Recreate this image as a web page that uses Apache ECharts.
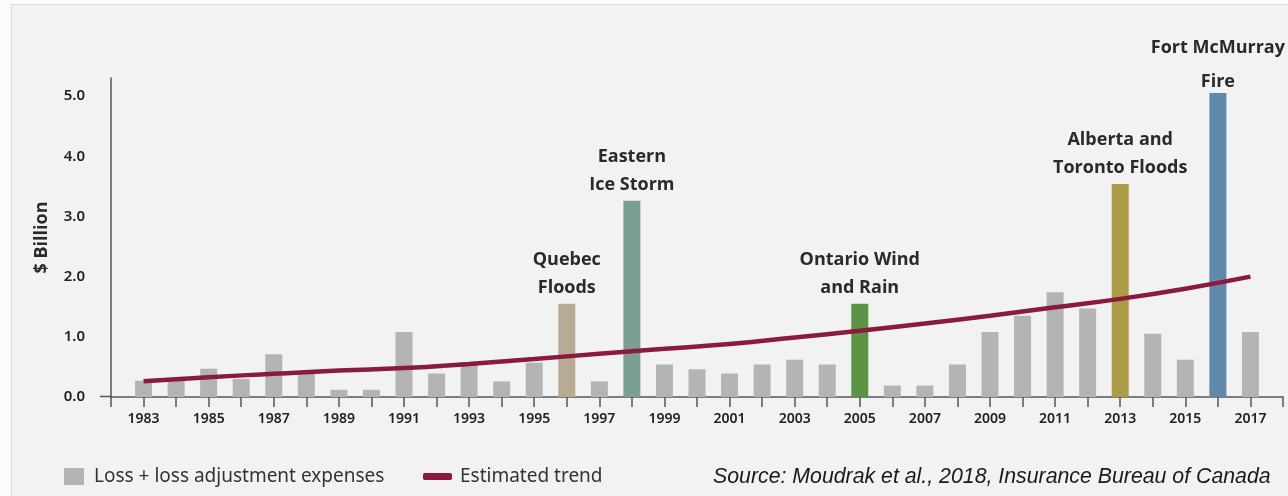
<!DOCTYPE html>
<html><head><meta charset="utf-8">
<script src="https://cdn.jsdelivr.net/npm/echarts@6/dist/echarts.min.js"></script>
<style>html,body{margin:0;padding:0;background:#fbfbfb;}#c{width:1288px;height:496px;}</style>
</head><body><div id="c"></div>
<script>
const years = [1983,1984,1985,1986,1987,1988,1989,1990,1991,1992,1993,1994,1995,1996,1997,1998,1999,2000,2001,2002,2003,2004,2005,2006,2007,2008,2009,2010,2011,2012,2013,2014,2015,2016,2017];
const losses = [0.27,0.28,0.47,0.30,0.71,0.43,0.12,0.12,1.08,0.39,0.58,0.26,0.57,1.55,0.26,3.26,0.54,0.46,0.39,0.54,0.62,0.54,1.55,0.19,0.19,0.54,1.08,1.35,1.74,1.47,3.54,1.05,0.62,5.05,1.08];
const trendYears = [1983,1985,1987,1989,1991,1993,1995,1997,1999,2001,2003,2005,2007,2009,2011,2013,2015,2017];
const trendValues = [0.26,0.33,0.385,0.44,0.48,0.55,0.63,0.72,0.80,0.88,0.99,1.10,1.22,1.35,1.49,1.63,1.80,2.00];
const events = {1996:'Quebec\nFloods',1998:'Eastern\nIce Storm',2005:'Ontario Wind\nand Rain',2013:'Alberta and\nToronto Floods',2016:'Fort McMurray\nFire'};
const eventColors = {1996:'#b8ab94',1998:'#7b9e92',2005:'#5b9444',2013:'#ab9d47',2016:'#6189a9'};
const yTicks = ['0.0','1.0','2.0','3.0','4.0','5.0'];
const barName = 'Loss + loss adjustment expenses';
const trendName = 'Estimated trend';

const sansFont = '"Noto Sans","Open Sans",sans-serif';
const boldFont = '"Open Sans","Noto Sans",sans-serif';
const barData = years.map((y,i)=>{
  const d = {value:[y, losses[i]]};
  if (eventColors[y]) {
    const tall = y === 2016;
    d.itemStyle = {color: eventColors[y]};
    d.label = {show:true, position:'top', distance: tall ? -6 : 2, formatter: events[y],
      fontFamily:boldFont, fontWeight:'bold', fontSize:18,
      lineHeight: tall ? 34 : 28, color:'#2a2a2a', align:'center', letterSpacing:-0.6};
  }
  return d;
});

const chart = echarts.init(document.getElementById('c'));
chart.setOption({
  animation:false,
  backgroundColor:'#fbfbfb',
  graphic:[
    {type:'rect', z:-10, shape:{x:11.5,y:4.5,width:1290,height:500}, style:{fill:'#f2f2f2', stroke:'#dcdcdc', lineWidth:1}},
    {type:'line', z:5, shape:{x1:100,y1:396.5,x2:112,y2:396.5}, style:{stroke:'#555', lineWidth:1.5}}
  ],
  title:{text:'Source: Moudrak et al., 2018, Insurance Bureau of Canada', left:708, top:462,
    textStyle:{fontFamily:'"Liberation Sans",Arial,sans-serif', fontStyle:'italic', fontWeight:'normal', fontSize:21.3, color:'#1a1a1a'}},
  legend:[
    {data:[barName], left:64, top:467, padding:0, itemWidth:20, itemHeight:17, icon:'rect', itemGap:0,
      textStyle:{fontFamily:sansFont, fontSize:19, color:'#333', padding:[0,0,0,5]}},
    {data:[trendName], left:423, top:467, padding:0, itemWidth:29, itemHeight:7, icon:'roundRect',
      textStyle:{fontFamily:sansFont, fontSize:19, color:'#333', padding:[0,0,0,3]}}
  ],
  grid:{left:111, right:5, top:78, bottom:99, containLabel:false},
  xAxis:{type:'value', min:1982, max:2018, interval:1,
    axisLine:{show:true, lineStyle:{color:'#555', width:1.5}},
    axisTick:{show:true, length:10, lineStyle:{color:'#555', width:1.5}},
    splitLine:{show:false},
    axisLabel:{margin:15, fontFamily:sansFont, fontWeight:600, fontSize:14, color:'#222', letterSpacing:-0.8,
      formatter:v=> (v>=1983 && v<=2017 && (v-1983)%2===0) ? String(v) : ''}
  },
  yAxis:{type:'value', min:0, max:5.3, interval:1,
    name:'$ Billion', nameLocation:'middle', nameGap:60, nameRotate:90,
    nameTextStyle:{fontFamily:boldFont, fontWeight:'bold', fontSize:18, color:'#2a2a2a', letterSpacing:-0.3},
    axisLine:{show:true, lineStyle:{color:'#555', width:1.5}},
    axisTick:{show:false}, splitLine:{show:false},
    axisLabel:{margin:26, fontFamily:sansFont, fontWeight:600, fontSize:15, color:'#222', letterSpacing:-0.8,
      formatter:v=> Number.isInteger(v) ? yTicks[v] : ''}
  },
  series:[
    {name:barName, type:'bar', data:barData, barWidth:17, itemStyle:{color:'#b4b4b4'}, z:2},
    {name:trendName, type:'line', data:trendYears.map((y,i)=>[y,trendValues[i]]), smooth:true,
      showSymbol:false, symbol:'none', lineStyle:{color:'#8a1a3f', width:4.5}, itemStyle:{color:'#8a1a3f'}, z:3}
  ]
});
</script></body></html>
